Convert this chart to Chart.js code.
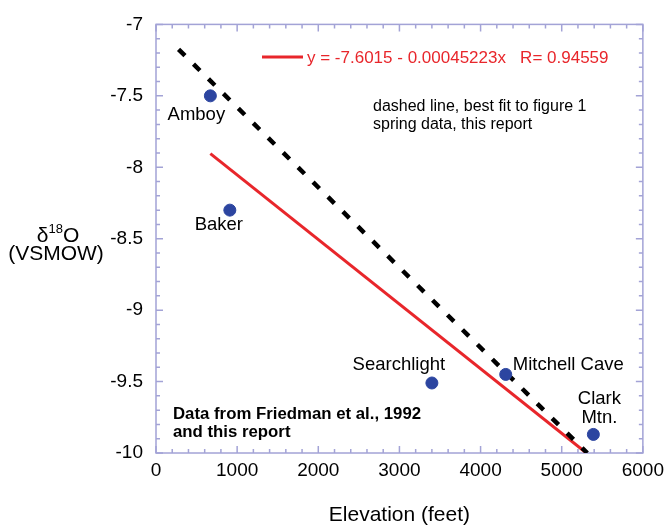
<!DOCTYPE html>
<html>
<head>
<meta charset="utf-8">
<script src="https://cdn.jsdelivr.net/npm/chart.js@4.4.1/dist/chart.umd.min.js"></script>
<style>
    html, body { margin: 0; padding: 0; background: #fff; }
    #wrap { width: 670px; height: 529px; position: relative; }
</style>
</head>
<body>
<div id="wrap"><canvas id="chart"></canvas></div>
<script>
// Spring sites: elevation (feet) and delta 18O (VSMOW)
const siteNames = ['Amboy', 'Baker', 'Searchlight', 'Mitchell Cave', 'Clark Mtn.'];
const elevation = [670, 910, 3400, 4310, 5390];
const delta18O = [-7.50, -8.30, -9.51, -9.45, -9.87];

// Red regression line end points
const fitX = [670, 5304];
const fitY = [-7.904, -10.0];

// Dashed best fit line (figure 1 spring data) end points
const dashX = [278, 5315];
const dashY = [-7.175, -10.0];

// Tick labels
const xTickLabels = ['0', '1000', '2000', '3000', '4000', '5000', '6000'];
const yTickLabels = ['-10', '-9.5', '-9', '-8.5', '-8', '-7.5', '-7'];

const FONT = "'Liberation Sans', Arial, sans-serif";
const AXIS_COLOR = '#a3a3d6';
const RED = '#e8262b';

Chart.defaults.font.family = FONT;
Chart.defaults.color = '#000';

// Where each site label sits relative to its point
const labelPlacement = [
    { dx: -14, dy: 19, align: 'center' },
    { dx: -11, dy: 15, align: 'center' },
    { dx: -33, dy: -18, align: 'center' },
    { dx: 7, dy: -10, align: 'left' },
    { dx: 6, dy: -36, align: 'center' }
];

// Frame and inward tick marks, plus all the text annotations
const framePlugin = {
    id: 'frame',
    beforeDatasetsDraw(chart) {
        const { ctx, chartArea: a, scales: { x, y } } = chart;
        ctx.save();
        ctx.strokeStyle = AXIS_COLOR;
        ctx.lineWidth = 1.5;
        ctx.strokeRect(a.left, a.top, a.right - a.left, a.bottom - a.top);
        ctx.beginPath();
        for (let v = 0; v <= 6000; v += 200) {
            const px = x.getPixelForValue(v);
            const len = v % 1000 === 0 ? 7 : 4;
            ctx.moveTo(px, a.bottom); ctx.lineTo(px, a.bottom - len);
            ctx.moveTo(px, a.top); ctx.lineTo(px, a.top + len);
        }
        for (let i = 0; i <= 30; i++) {
            const py = y.getPixelForValue(-10 + i * 0.1);
            const len = i % 5 === 0 ? 7 : 4;
            ctx.moveTo(a.left, py); ctx.lineTo(a.left + len, py);
            ctx.moveTo(a.right, py); ctx.lineTo(a.right - len, py);
        }
        ctx.stroke();
        ctx.restore();
    },
    afterDraw(chart) {
        const { ctx, chartArea: a, scales: { x, y } } = chart;
        ctx.save();
        ctx.textBaseline = 'middle';

        // site labels
        ctx.fillStyle = '#000';
        ctx.font = '18.5px ' + FONT;
        siteNames.forEach((name, i) => {
            const p = labelPlacement[i];
            const px = x.getPixelForValue(elevation[i]) + p.dx;
            const py = y.getPixelForValue(delta18O[i]) + p.dy;
            ctx.textAlign = p.align;
            if (name === 'Clark Mtn.') {
                ctx.fillText('Clark', px, py);
                ctx.fillText('Mtn.', px, py + 19);
            } else {
                ctx.fillText(name, px, py);
            }
        });

        // regression legend
        ctx.strokeStyle = RED;
        ctx.lineWidth = 3;
        ctx.beginPath();
        ctx.moveTo(262, 57); ctx.lineTo(303, 57);
        ctx.stroke();
        ctx.fillStyle = RED;
        ctx.textAlign = 'left';
        ctx.font = '17px ' + FONT;
        ctx.fillText('y = -7.6015 - 0.00045223x   R= 0.94559', 307, 58);

        // dashed line note
        ctx.fillStyle = '#000';
        ctx.font = '16px ' + FONT;
        ctx.fillText('dashed line, best fit to figure 1', 373, 107);
        ctx.fillText('spring data, this report', 373, 125);

        // source note
        ctx.font = 'bold 16.8px ' + FONT;
        ctx.fillText('Data from Friedman et al., 1992', 173, 414);
        ctx.fillText('and this report', 173, 432);

        // axis titles
        ctx.font = '21px ' + FONT;
        ctx.textAlign = 'center';
        ctx.fillText('Elevation (feet)', (a.left + a.right) / 2, 515);

        ctx.textAlign = 'left';
        const dw = ctx.measureText('δ').width;
        const ow = ctx.measureText('O').width;
        ctx.font = '13px ' + FONT;
        const sw = ctx.measureText('18').width;
        const sx = 58 - (dw + sw + ow) / 2;
        ctx.font = '21px ' + FONT;
        ctx.fillText('δ', sx, 236);
        ctx.fillText('O', sx + dw + sw, 236);
        ctx.font = '13px ' + FONT;
        ctx.fillText('18', sx + dw, 229);
        ctx.font = '21px ' + FONT;
        ctx.textAlign = 'center';
        ctx.fillText('(VSMOW)', 56, 254);
        ctx.restore();
    }
};

const ctx = document.getElementById('chart').getContext('2d');
new Chart(ctx, {
    type: 'scatter',
    data: {
        datasets: [
            {
                label: 'Springs',
                data: elevation.map((e, i) => ({ x: e, y: delta18O[i] })),
                backgroundColor: '#2c45a0',
                borderColor: '#2c45a0',
                pointRadius: 6,
                order: 0
            },
            {
                type: 'line',
                label: 'Dashed fit',
                data: dashX.map((e, i) => ({ x: e, y: dashY[i] })),
                borderColor: '#000',
                borderWidth: 4.5,
                borderDash: [9, 12],
                borderCapStyle: 'butt',
                pointRadius: 0,
                fill: false,
                order: 1
            },
            {
                type: 'line',
                label: 'Regression',
                data: fitX.map((e, i) => ({ x: e, y: fitY[i] })),
                borderColor: RED,
                borderWidth: 3,
                pointRadius: 0,
                fill: false,
                order: 2
            }
        ]
    },
    options: {
        responsive: true,
        maintainAspectRatio: false,
        animation: false,
        layout: { padding: { top: 19, right: 25, left: 0, bottom: 0 } },
        plugins: {
            legend: { display: false },
            tooltip: { enabled: false }
        },
        scales: {
            x: {
                type: 'linear',
                min: 0,
                max: 6000,
                grid: { display: false, drawTicks: false },
                border: { display: false },
                ticks: {
                    stepSize: 1000,
                    padding: 6,
                    maxRotation: 0,
                    autoSkip: false,
                    font: { size: 19 },
                    callback: (v, i) => xTickLabels[i]
                },
                afterFit(scale) { scale.height = 529 - 453; }
            },
            y: {
                type: 'linear',
                min: -10,
                max: -7,
                grid: { display: false, drawTicks: false },
                border: { display: false },
                ticks: {
                    stepSize: 0.5,
                    padding: 13,
                    autoSkip: false,
                    font: { size: 19 },
                    callback: (v, i) => yTickLabels[i]
                },
                afterFit(scale) { scale.width = 156; }
            }
        }
    },
    plugins: [framePlugin]
});
</script>
</body>
</html>
